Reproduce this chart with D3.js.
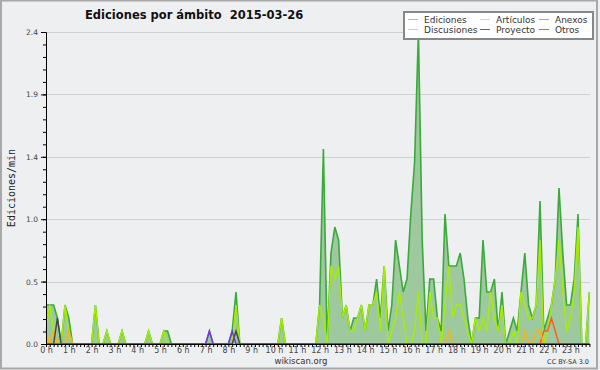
<!DOCTYPE html>
<html>
<head>
<meta charset="utf-8">
<script src="https://cdn.jsdelivr.net/npm/d3@7"></script>
<style>
  body { margin: 0; background: #eeeff1; }
  svg { display: block; font-family: "DejaVu Sans", sans-serif; }
  .y-axis text, .x-axis text { fill: #444; }
</style>
</head>
<body>
<svg width="600" height="370"></svg>
<script>
// hourly tick labels, one value every 10 minutes (144 bins)
let hours = d3.range(24).map(h => h + ' h')
let yTicks = [0, 0.48, 0.96, 1.44, 1.92, 2.4]

let ediciones = [
  0.3, 0.3, 0.3, 0.2, 0, 0.3,   0.2, 0, 0, 0, 0, 0,
  0, 0.3, 0, 0, 0.1, 0,         0, 0, 0.1, 0, 0, 0,
  0, 0, 0, 0.1, 0, 0,           0, 0.1, 0.1, 0, 0, 0,
  0, 0, 0, 0, 0, 0,             0, 0.1, 0, 0, 0, 0,
  0, 0.1, 0.4, 0, 0, 0,         0, 0, 0, 0, 0, 0,
  0, 0, 0.2, 0, 0, 0,           0, 0, 0, 0, 0, 0,
  0.3, 1.5, 0, 0.7, 0.9, 0.8,   0.2, 0.3, 0.1, 0.2, 0.2, 0.3,
  0.1, 0.3, 0.3, 0.5, 0.2, 0.6, 0.1, 0.3, 0.8, 0.6, 0.4, 0.5,
  1.0, 1.4, 2.4, 0.8, 0.1, 0.5, 0.5, 0.2, 0.1, 1.0, 0.6, 0.6,
  0.6, 0.7, 0.5, 0.2, 0, 0.2,   0.2, 0.8, 0.4, 0.4, 0.5, 0.1,
  0.4, 0, 0.1, 0.2, 0.1, 0.4,   0.7, 0.3, 0.2, 0.3, 1.1, 0.1,
  0.2, 0.3, 0.5, 1.2, 0.7, 0.3, 0.3, 0.5, 1.0, 0, 0, 0.4
]
let articulos = [
  0.1, 0.3, 0.1, 0, 0, 0.3,     0.1, 0, 0, 0, 0, 0,
  0, 0.3, 0, 0, 0.1, 0,         0, 0, 0.1, 0, 0, 0,
  0, 0, 0, 0.1, 0, 0,           0, 0.1, 0, 0, 0, 0,
  0, 0, 0, 0, 0, 0,             0, 0, 0, 0, 0, 0,
  0, 0, 0.3, 0, 0, 0,           0, 0, 0, 0, 0, 0,
  0, 0, 0.2, 0, 0, 0,           0, 0, 0, 0, 0, 0,
  0.3, 0.2, 0, 0.6, 0.5, 0.6,   0.2, 0.3, 0.1, 0.1, 0.2, 0.3,
  0.1, 0.3, 0.3, 0.4, 0.1, 0.6, 0, 0.1, 0.2, 0.4, 0.2, 0,
  0, 0.1, 0.4, 0, 0, 0.4,       0.2, 0.2, 0, 0.3, 0.6, 0.2,
  0.3, 0.3, 0.2, 0.1, 0, 0.2,   0.1, 0.2, 0.1, 0.4, 0.2, 0.1,
  0.3, 0, 0, 0.1, 0, 0.4,       0.3, 0.2, 0.2, 0.3, 0.8, 0,
  0.1, 0.3, 0.5, 0.8, 0.4, 0.1, 0.2, 0.4, 0.9, 0, 0, 0.4
]
let anexos = new Array(144).fill(0)
anexos[131] = 0.1; anexos[132] = 0.1; anexos[133] = 0.2; anexos[134] = 0.1
let discusiones = new Array(144).fill(0)
discusiones[0] = 0.1; discusiones[2] = 0.1; discusiones[6] = 0.1; discusiones[106] = 0.1
discusiones[126] = 0.1; discusiones[129] = 0.1; discusiones[130] = 0.1
let proyecto = new Array(144).fill(0)
proyecto[3] = 0.2; proyecto[50] = 0.1
let otros = new Array(144).fill(0)
otros[43] = 0.1; otros[49] = 0.1

let series = [
  { name: 'Ediciones', values: ediciones, color: '#3aaa3a', key: '#8fd08f' },
  { name: 'Artículos', values: articulos, color: '#a6ee00', key: '#ccee66' },
  { name: 'Anexos', values: anexos, color: '#ff5a1e', key: '#ff8a5a' },
  { name: 'Discusiones', values: discusiones, color: '#ffb400', key: '#ffd050' },
  { name: 'Proyecto', values: proyecto, color: '#444444', key: '#666666' },
  { name: 'Otros', values: otros, color: '#7a2ef0', key: '#9a5cff' }
]

let width = 600
let height = 370
let svg = d3.select('svg')

let xScale = d3.scaleLinear().domain([0, 143]).range([46, 589.4])
let yScale = d3.scaleLinear().domain([0, 2.4]).range([344, 32])

// frame
svg.append('rect')
  .attr('x', 1).attr('y', 0.5).attr('width', width - 4).attr('height', height - 2)
  .attr('fill', '#eeeff1').attr('stroke', '#a8a8a8').attr('stroke-width', 2)

// grid
svg.append('g').selectAll('line')
  .data(yTicks.slice(1))
  .enter().append('line')
  .attr('x1', 46).attr('x2', 590)
  .attr('y1', d => Math.round(yScale(d)) + 0.5)
  .attr('y2', d => Math.round(yScale(d)) + 0.5)
  .attr('stroke', '#cfcfcf')

// total area
let area = d3.area()
  .x((d, i) => xScale(i))
  .y0(yScale(0))
  .y1(d => yScale(d))
svg.append('path')
  .datum(ediciones)
  .attr('d', area)
  .attr('fill', '#9ec89e')

let line = d3.line()
  .x((d, i) => xScale(i))
  .y(d => yScale(d))

svg.append('g').selectAll('path')
  .data(series)
  .enter().append('path')
  .attr('d', d => line(d.values))
  .attr('fill', 'none')
  .attr('stroke', d => d.color)
  .attr('stroke-width', (d, i) => i == 0 ? 1.6 : 1.4)
  .attr('stroke-linejoin', 'miter')

// axes
let yAxis = d3.axisLeft(yScale)
  .tickValues(yTicks)
  .tickFormat(d3.format('.1f'))
  .tickSize(5)
  .tickSizeOuter(0)
let yMinor = d3.axisLeft(yScale)
  .tickValues(d3.range(0, 2.4001, 0.096))
  .tickFormat('')
  .tickSize(3)
  .tickSizeOuter(0)
svg.append('g')
  .attr('transform', 'translate(46,0)')
  .call(yMinor)
svg.append('g')
  .attr('class', 'y-axis')
  .attr('transform', 'translate(46,0)')
  .call(yAxis)
  .attr('font-size', 7.5)
  .attr('font-family', '"DejaVu Sans", sans-serif')

let xAxis = d3.axisBottom(xScale)
  .tickValues(d3.range(0, 144))
  .tickFormat(d => d % 6 == 0 ? hours[d / 6] : '')
  .tickSize(3)
  .tickSizeOuter(0)
svg.append('g')
  .attr('class', 'x-axis')
  .attr('transform', 'translate(0,344)')
  .call(xAxis)
  .attr('font-size', 8)
  .attr('font-family', '"DejaVu Sans", sans-serif')
  .selectAll('text').attr('dy', '0.6em').attr('y', 4)

svg.selectAll('.domain').attr('stroke', '#000')

// title and labels
svg.append('text')
  .attr('x', 85).attr('y', 19)
  .attr('font-weight', 'bold').attr('font-size', 11.5)
  .style('white-space', 'pre')
  .attr('fill', '#111')
  .text('Ediciones por ámbito  2015-03-26')

svg.append('text')
  .attr('transform', 'translate(15,188) rotate(-90)')
  .attr('text-anchor', 'middle')
  .attr('font-family', '"DejaVu Sans Mono", monospace')
  .attr('font-size', 10)
  .attr('fill', '#222')
  .text('Ediciones/min')

svg.append('text')
  .attr('x', 301).attr('y', 364)
  .attr('text-anchor', 'middle')
  .attr('font-size', 8.5).attr('fill', '#333')
  .text('wikiscan.org')

svg.append('text')
  .attr('x', 589).attr('y', 364)
  .attr('text-anchor', 'end')
  .attr('font-size', 6.5).attr('fill', '#333')
  .text('CC BY-SA 3.0')

// legend
let legend = svg.append('g')
legend.append('rect')
  .attr('x', 404).attr('y', 12).attr('width', 189).attr('height', 27)
  .attr('fill', '#fff').attr('stroke', '#888').attr('stroke-width', 2)
let legendPos = [[408, 19], [480, 19], [539, 19], [408, 29], [480, 29], [539, 29]]
let legendOrder = [0, 1, 2, 3, 4, 5]
legendOrder.forEach((s, k) => {
  let [lx, ly] = legendPos[k]
  legend.append('line')
    .attr('x1', lx).attr('x2', lx + 10)
    .attr('y1', ly + 0.5).attr('y2', ly + 0.5)
    .attr('stroke', series[s].key)
  legend.append('text')
    .attr('x', lx + 16).attr('y', ly + 3.5)
    .attr('font-size', 9).attr('fill', '#333')
    .text(series[s].name)
})
</script>
</body>
</html>
